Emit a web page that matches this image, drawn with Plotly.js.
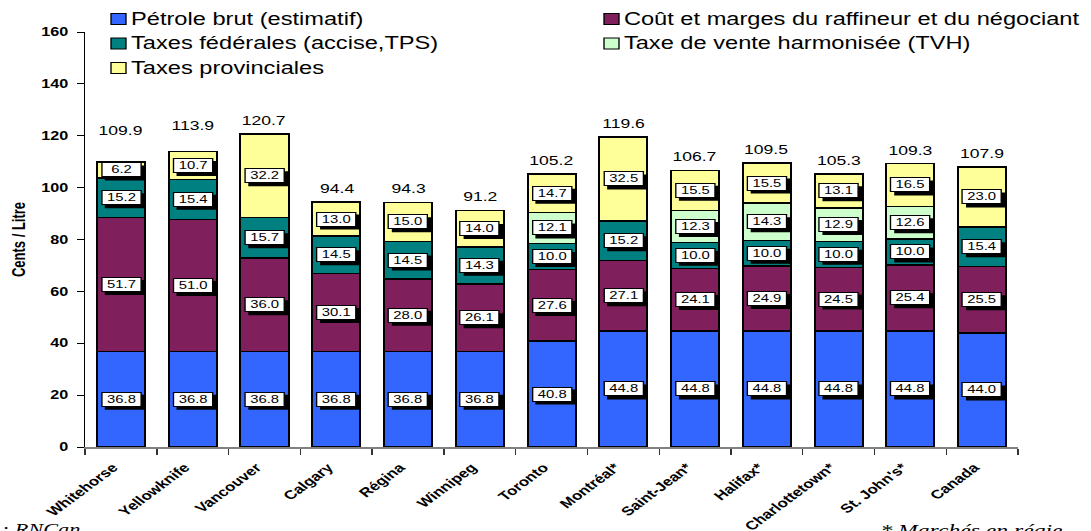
<!DOCTYPE html>
<html>
<head>
<meta charset="utf-8">
<script src="https://cdn.plot.ly/plotly-3.0.1.min.js"></script>
<style>
html,body{margin:0;padding:0;background:#fff;overflow:hidden;}
#chart{width:808px;height:531px;transform:scaleX(1.35025);transform-origin:0 0;}
</style>
</head>
<body>
<div id="chart"></div>
<script>
const cities = ["Whitehorse","Yellowknife","Vancouver","Calgary","Régina","Winnipeg","Toronto","Montréal*","Saint-Jean*","Halifax*","Charlottetown*","St. John's*","Canada"];
const petrole = [36.8,36.8,36.8,36.8,36.8,36.8,40.8,44.8,44.8,44.8,44.8,44.8,44.0];
const cout = [51.7,51.0,36.0,30.1,28.0,26.1,27.6,27.1,24.1,24.9,24.5,25.4,25.5];
const federales = [15.2,15.4,15.7,14.5,14.5,14.3,10.0,15.2,10.0,10.0,10.0,10.0,15.4];
const tvh = [0,0,0,0,0,0,12.1,0,12.3,14.3,12.9,12.6,0];
const provinciales = [6.2,10.7,32.2,13.0,15.0,14.0,14.7,32.5,15.5,15.5,13.1,16.5,23.0];
const totals = [109.9,113.9,120.7,94.4,94.3,91.2,105.2,119.6,106.7,109.5,105.3,109.3,107.9];
const seriesNames = ["Pétrole brut (estimatif)","Coût et marges du raffineur et du négociant","Taxes fédérales (accise,TPS)","Taxe de vente harmonisée (TVH)","Taxes provinciales"];
const seriesValues = [petrole, cout, federales, tvh, provinciales];
const seriesColors = ["#3366FF","#7F1F5C","#008080","#CCFFCC","#FFFF99"];
// style only: extra lift (px) of the total labels, as placed in the reference
const totalLabelExtraLift = [18,13,0,0,0,0,0,0,0,0,0,0,0];

const FONT = "Liberation Sans, Arial, sans-serif";
const SERIF = "Liberation Serif, Times New Roman, serif";

// geometry (unscaled page; the div is stretched horizontally like the reference)
const S = 1091 / 808, W = 808, H = 531, ML = 63, MR = 54, MT = 32, MB = 84;
const PW = W - ML - MR, PH = H - MT - MB;
const px = X => (X / S - ML) / PW;
const py = Y => (H - MB - Y) / PH;

const traces = seriesValues.map((vals, i) => ({
  type: "bar",
  name: seriesNames[i],
  x: cities,
  y: vals,
  marker: {color: seriesColors[i], line: {color: "#000", width: 1.5}},
  hoverinfo: "skip",
  showlegend: false
}));

const annotations = [];
const shapes = [];
const base = cities.map(() => 0);
const BW = 30, BH = 15; // label box size (px)
seriesValues.forEach((vals) => {
  vals.forEach((v, j) => {
    if (v > 0) {
      const yc = base[j] + v / 2;
      shapes.push({type: "rect", layer: "above", xref: "x", yref: "y",
        xsizemode: "pixel", ysizemode: "pixel", xanchor: j, yanchor: yc,
        x0: -BW / 2 + 3, x1: BW / 2 + 3, y0: -BH / 2 - 3, y1: BH / 2 - 3,
        fillcolor: "#000", line: {width: 0}});
      annotations.push({x: cities[j], y: yc, xref: "x", yref: "y", text: v.toFixed(1), showarrow: false,
        font: {family: FONT, size: 11, color: "#000"}, borderwidth: 1, borderpad: 1,
        width: BW - 4, height: BH - 4, align: "center", valign: "middle",
        bgcolor: "#fff", bordercolor: "#000"});
    }
    base[j] += v;
  });
});
totals.forEach((t, j) => {
  annotations.push({x: cities[j], y: t, xref: "x", yref: "y", text: t.toFixed(1), showarrow: false,
    yanchor: "bottom", yshift: 4 + totalLabelExtraLift[j], font: {family: FONT, size: 13, color: "#000"}});
});

// manual legend, two columns
const legendItems = [
  {i: 0, X: 111, Y: 19},
  {i: 2, X: 111, Y: 43.5},
  {i: 4, X: 111, Y: 68},
  {i: 1, X: 604, Y: 19},
  {i: 3, X: 604, Y: 43.5}
];
legendItems.forEach(it => {
  shapes.push({type: "rect", xref: "paper", yref: "paper", x0: px(it.X), x1: px(it.X + 15),
    y0: py(it.Y + 5.5), y1: py(it.Y - 5.5), fillcolor: seriesColors[it.i], line: {color: "#000", width: 1}});
  annotations.push({xref: "paper", yref: "paper", x: px(it.X + 17), y: py(it.Y), xanchor: "left", yanchor: "middle",
    text: seriesNames[it.i], showarrow: false, font: {family: FONT, size: 17.5, color: "#000"}});
});

annotations.push({xref: "paper", yref: "paper", x: px(84), y: -0.172, xanchor: "right", yanchor: "top",
  text: "<i>Source : RNCan</i>", showarrow: false, font: {family: SERIF, size: 16.5, color: "#000"}});
annotations.push({xref: "paper", yref: "paper", x: px(1066), y: -0.17, xanchor: "right", yanchor: "top",
  text: "<i>* Marchés en régie</i>", showarrow: false, font: {family: SERIF, size: 17.5, color: "#000"}});

const layout = {
  width: W, height: H,
  margin: {l: ML, r: MR, t: MT, b: MB},
  paper_bgcolor: "#fff", plot_bgcolor: "#fff",
  barmode: "stack",
  bargap: 0.33,
  showlegend: false,
  xaxis: {type: "category", tickangle: -45, showline: true, linecolor: "#808080", linewidth: 1.5,
    ticks: "outside", tickson: "boundaries", ticklen: 6, tickcolor: "#333",
    ticklabelshift: -6, ticklabelstandoff: 7,
    tickfont: {family: FONT, size: 12.5, color: "#000", weight: "bold"}, showgrid: false, zeroline: false, fixedrange: true},
  yaxis: {range: [0, 160], dtick: 20, showline: true, linecolor: "#000", linewidth: 1,
    ticks: "outside", ticklen: 5, tickcolor: "#000", showgrid: false, zeroline: false, ticklabelstandoff: 4,
    tickfont: {family: FONT, size: 12, color: "#000", weight: "bold"},
    title: {text: "Cents / Litre", font: {family: FONT, size: 13, color: "#000", weight: "bold"}, standoff: 8}},
  shapes: shapes,
  annotations: annotations
};

Plotly.newPlot("chart", traces, layout, {displayModeBar: false, staticPlot: true});
</script>
</body>
</html>
